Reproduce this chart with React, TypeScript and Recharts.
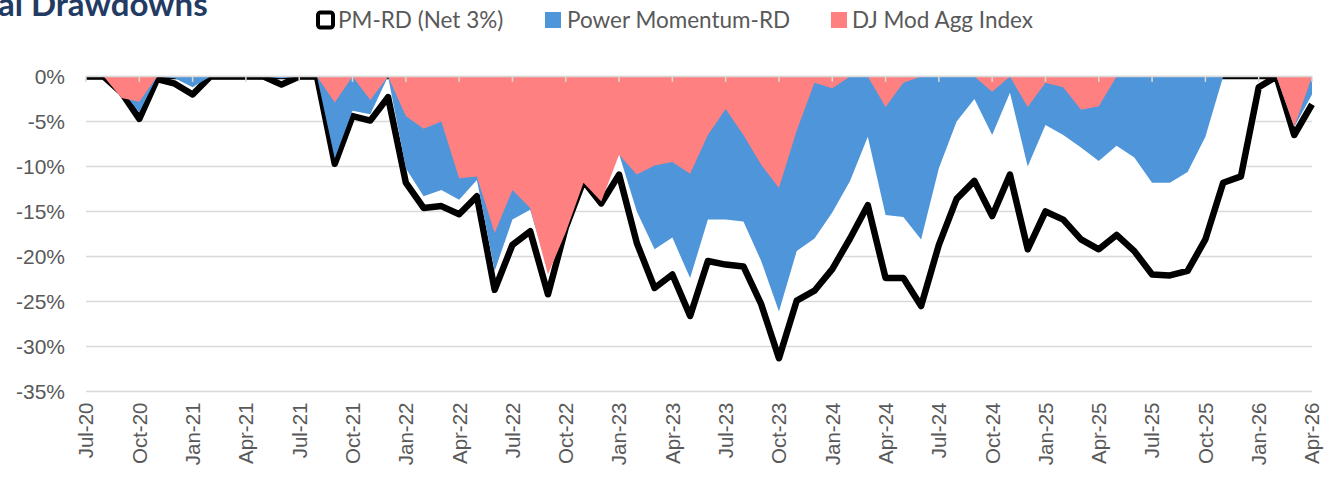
import { AreaChart, Area, XAxis, YAxis, CartesianGrid, ReferenceLine } from "recharts";

const months = [
  "Jul-20", "Aug-20", "Sep-20", "Oct-20", "Nov-20", "Dec-20",
  "Jan-21", "Feb-21", "Mar-21", "Apr-21", "May-21", "Jun-21", "Jul-21", "Aug-21", "Sep-21", "Oct-21", "Nov-21", "Dec-21",
  "Jan-22", "Feb-22", "Mar-22", "Apr-22", "May-22", "Jun-22", "Jul-22", "Aug-22", "Sep-22", "Oct-22", "Nov-22", "Dec-22",
  "Jan-23", "Feb-23", "Mar-23", "Apr-23", "May-23", "Jun-23", "Jul-23", "Aug-23", "Sep-23", "Oct-23", "Nov-23", "Dec-23",
  "Jan-24", "Feb-24", "Mar-24", "Apr-24", "May-24", "Jun-24", "Jul-24", "Aug-24", "Sep-24", "Oct-24", "Nov-24", "Dec-24",
  "Jan-25", "Feb-25", "Mar-25", "Apr-25", "May-25", "Jun-25", "Jul-25", "Aug-25", "Sep-25", "Oct-25", "Nov-25", "Dec-25",
  "Jan-26", "Feb-26", "Mar-26", "Apr-26",
];

// PM-RD (Net 3%) drawdown, %
const pmNet = [
  0, 0, -1.8, -4.7, -0.3, -0.8, -2.0, 0, 0, 0,
  0, -0.9, 0, 0, -9.7, -4.4, -4.9, -2.3, -11.8, -14.6,
  -14.4, -15.3, -13.3, -23.7, -18.7, -17.2, -24.2, -16.8, -11.6, -14.1,
  -10.9, -18.5, -23.5, -22.0, -26.6, -20.5, -20.9, -21.1, -25.3, -31.3,
  -24.9, -23.8, -21.4, -18.0, -14.3, -22.4, -22.4, -25.5, -18.7, -13.6,
  -11.6, -15.5, -10.9, -19.2, -15.0, -15.9, -18.1, -19.2, -17.6, -19.4,
  -22.0, -22.1, -21.6, -18.1, -11.8, -11.1, -1.2, 0, -6.5, -3.1,
];

// Power Momentum-RD drawdown, %
const powerMomentum = [
  0, 0, -1.5, -4.0, 0, -0.2, -1.2, 0, 0, 0,
  0, -0.2, 0, 0, -9.1, -3.8, -4.2, 0, -10.2, -13.3,
  -12.6, -13.7, -11.5, -21.6, -15.9, -14.8, -21.5, -15.0, -11.0, -13.0,
  -8.6, -15.0, -19.2, -17.9, -22.4, -15.9, -15.9, -16.1, -20.5, -26.1,
  -19.4, -18.0, -15.1, -11.6, -6.7, -15.4, -15.6, -18.1, -10.2, -5.0,
  -2.5, -6.5, -1.8, -10.0, -5.4, -6.5, -7.9, -9.4, -7.7, -9.0,
  -11.8, -11.8, -10.6, -6.7, 0, 0, 0, 0, -5.6, -2.0,
];

// DJ Mod Agg Index drawdown, %
const djModAgg = [
  0, 0, -2.4, -2.8, 0, 0, 0, 0, 0, 0,
  0, 0, 0, 0, -2.9, 0, -2.6, 0, -4.4, -5.8,
  -5.0, -11.3, -11.1, -17.4, -12.6, -14.6, -22.0, -17.3, -11.8, -13.9,
  -8.7, -10.9, -9.9, -9.5, -10.8, -6.5, -3.6, -6.5, -9.8, -12.4,
  -6.0, -0.7, -1.3, 0, 0, -3.4, -0.7, 0, 0, 0,
  0, -1.7, 0, -3.4, -0.7, -1.2, -3.7, -3.3, 0, 0,
  0, 0, 0, 0, 0, 0, 0, 0, -5.6, 0,
];

const yTicks = [0, -5, -10, -15, -20, -25, -30, -35];
const quarterTicks = months.filter((_, i) => i % 3 === 0);

const data = months.map((m, i) => ({
  month: m,
  net: pmNet[i],
  gross: powerMomentum[i],
  dj: djModAgg[i],
}));

const BLUE = "#4F95D9";
const PINK = "#FF8080";
const GREY_TEXT = "#595959";
const GRID = "#D9D9D9";

const XTick = ({ x, y, payload }: any) => (
  <text
    x={x}
    y={y}
    transform={`rotate(-90, ${x}, ${y})`}
    textAnchor="end"
    dy="0.36em"
    fill={GREY_TEXT}
    fontSize={20.5}
    fontFamily="'Liberation Sans', Arial, sans-serif"
  >
    {payload.value}
  </text>
);

export default function App() {
  return (
    <div style={{ position: "absolute", left: 0, top: 0, width: 1335, height: 479, background: "#fff" }}>
      <svg width={1335} height={40} style={{ position: "absolute", left: 0, top: 0, overflow: "visible" }}>
        <text x={-2} y={16} fill="#233B63" fontSize={33} fontWeight={700} fontFamily="Lato, sans-serif">
          al Drawdowns
        </text>
        {/* legend */}
        <rect x={318} y={12.5} width={15} height={15} rx={2.5} fill="#fff" stroke="#000" strokeWidth={4} />
        <text x={338} y={28} fill={GREY_TEXT} fontSize={22.5} fontFamily="Lato, sans-serif">PM-RD (Net 3%)</text>
        <rect x={545} y={12} width={16} height={16} fill={BLUE} />
        <text x={567} y={28} fill={GREY_TEXT} fontSize={22.5} fontFamily="Lato, sans-serif">Power Momentum-RD</text>
        <rect x={831} y={12} width={16} height={16} fill={PINK} />
        <text x={852} y={28} fill={GREY_TEXT} fontSize={22.5} fontFamily="Lato, sans-serif">DJ Mod Agg Index</text>
      </svg>
      <AreaChart
        width={1335}
        height={479}
        data={data}
        margin={{ top: 76.5, right: 23, bottom: 8, left: 10 }}
        style={{ position: "absolute", left: 0, top: 0 }}
      >
        <CartesianGrid horizontal vertical={false} stroke={GRID} strokeWidth={1.5} />
        <XAxis
          dataKey="month"
          interval={2}
          tickLine={false}
          axisLine={false}
          tickSize={0}
          tickMargin={11}
          height={79.5}
          tick={<XTick />}
        />
        <YAxis
          type="number"
          domain={[-35, 0]}
          ticks={yTicks}
          allowDataOverflow
          tickFormatter={(v: number) => `${v}%`}
          tickLine={false}
          axisLine={false}
          tickSize={0}
          tickMargin={21}
          width={76}
          tick={{ fill: GREY_TEXT, fontSize: 21, fontFamily: "'Liberation Sans', Arial, sans-serif" }}
        />
        <Area
          type="linear"
          dataKey="net"
          name="PM-RD (Net 3%)"
          baseValue={0}
          fill="#fff"
          fillOpacity={1}
          stroke="#000"
          strokeWidth={6.5}
          strokeLinejoin="round"
          isAnimationActive={false}
        />
        {/* top edge of the PM-RD outline along 0% */}
        <Area
          type="linear"
          dataKey={() => 0}
          baseValue={0}
          fill="none"
          stroke="#000"
          strokeWidth={5.5}
          legendType="none"
          isAnimationActive={false}
        />
        <Area
          type="linear"
          dataKey="gross"
          name="Power Momentum-RD"
          baseValue={0}
          fill={BLUE}
          fillOpacity={1}
          stroke="none"
          isAnimationActive={false}
        />
        <Area
          type="linear"
          dataKey="dj"
          name="DJ Mod Agg Index"
          baseValue={0}
          fill={PINK}
          fillOpacity={1}
          stroke="none"
          isAnimationActive={false}
        />
        <ReferenceLine y={0} stroke={GRID} strokeWidth={1.5} />
        {quarterTicks.map((m) => (
          <ReferenceLine
            key={m}
            segment={[{ x: m, y: 0 }, { x: m, y: -0.6 }]}
            stroke={GRID}
            strokeWidth={1.5}
          />
        ))}
      </AreaChart>
    </div>
  );
}
